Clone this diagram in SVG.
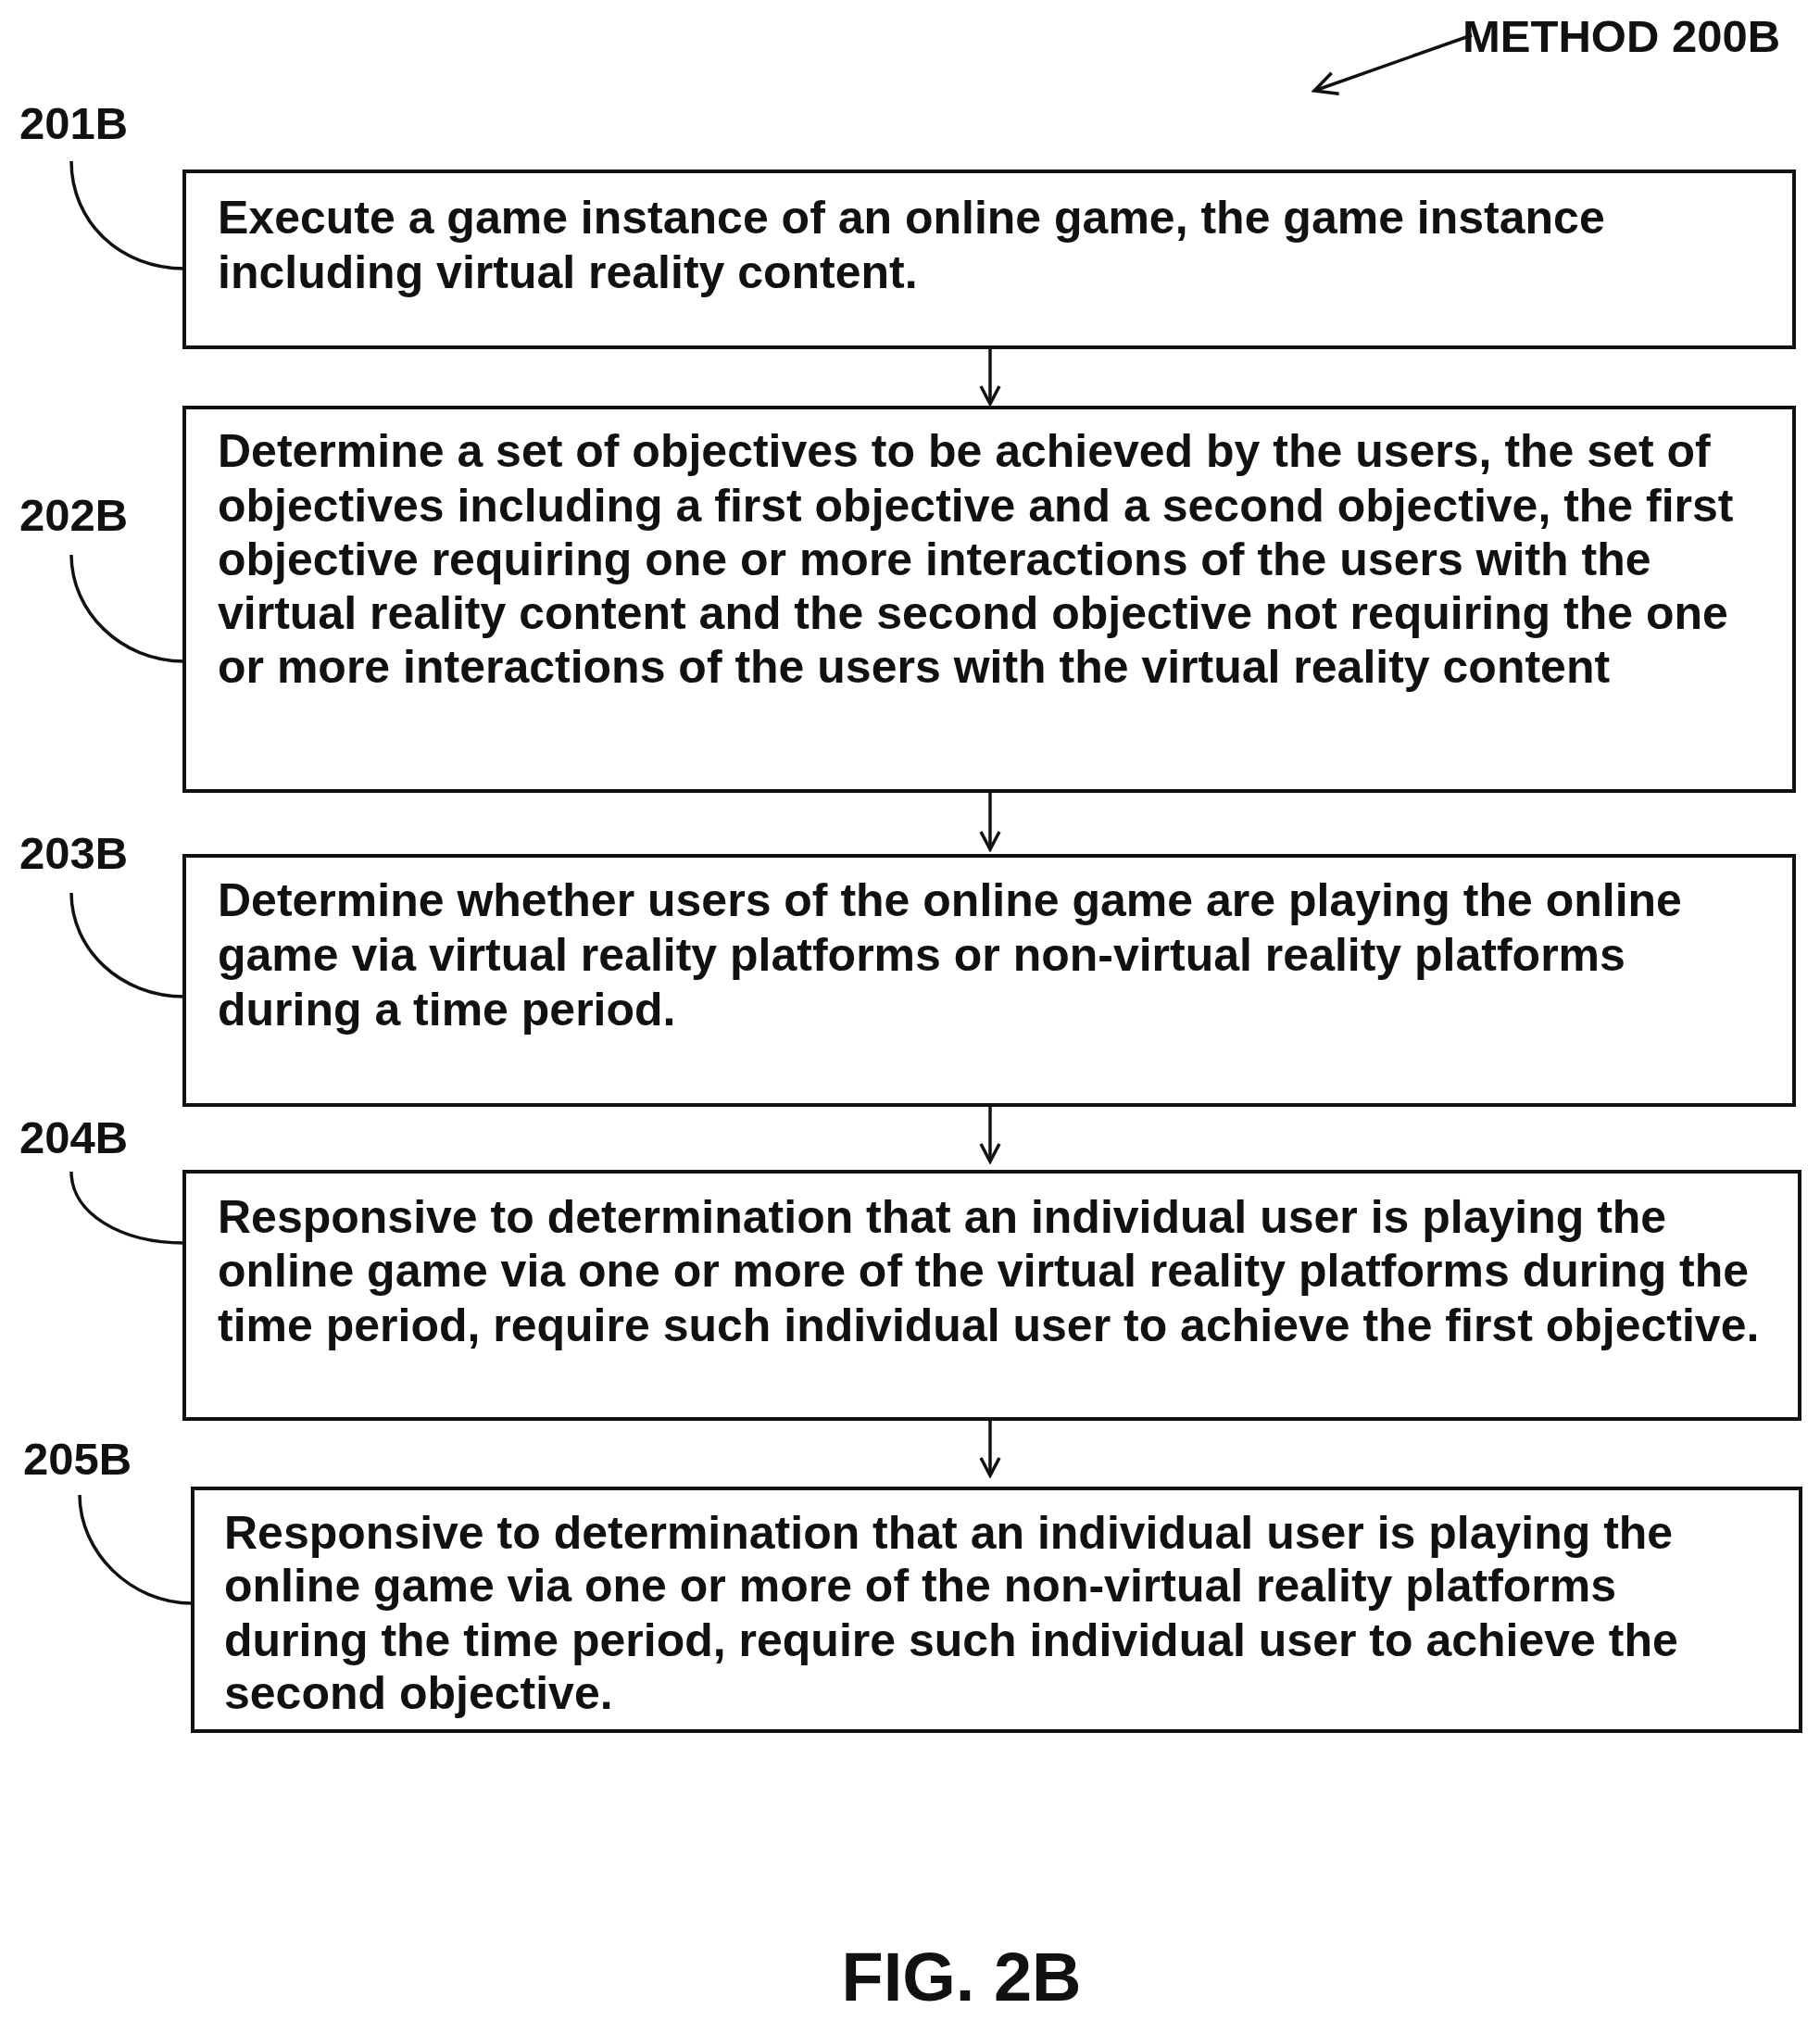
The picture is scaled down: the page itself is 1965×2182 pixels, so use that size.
<svg xmlns="http://www.w3.org/2000/svg" width="1965" height="2182" viewBox="0 0 1965 2182">
<style>
text{font-family:"Liberation Sans",Arial,sans-serif;font-weight:bold;fill:#111}
.t{font-size:50px}
.l{font-size:49px}
.box{fill:#fff;stroke:#111;stroke-width:4}
.c{fill:none;stroke:#111;stroke-width:3.5}
</style>
<defs><marker id="a" viewBox="0 0 24 24" refX="21" refY="12" markerWidth="24" markerHeight="24" markerUnits="userSpaceOnUse" orient="auto"><path d="M2,2 L21,12 L2,22" fill="none" stroke="#111" stroke-width="3.5"/></marker>
<marker id="b" viewBox="0 0 30 30" refX="27" refY="15" markerWidth="30" markerHeight="30" markerUnits="userSpaceOnUse" orient="auto"><path d="M3,3 L27,15 L3,27" fill="none" stroke="#111" stroke-width="3.5"/></marker></defs>
<rect width="1965" height="2182" fill="#fff"/>
<g id="title"><text x="1579" y="56" class="l">METHOD 200B</text></g>
<g id="n1"><rect class="box" x="199" y="185" width="1738" height="190"/>
<text class="t" x="235" y="252">Execute a game instance of an online game, the game instance</text>
<text class="t" x="235" y="311">including virtual reality content.</text>
<text class="l" x="21" y="150">201B</text></g>
<g id="n2"><rect class="box" x="199" y="440" width="1738" height="414"/>
<text class="t" x="235" y="504">Determine a set of objectives to be achieved by the users, the set of</text>
<text class="t" x="235" y="563">objectives including a first objective and a second objective, the first</text>
<text class="t" x="235" y="621">objective requiring one or more interactions of the users with the</text>
<text class="t" x="235" y="679">virtual reality content and the second objective not requiring the one</text>
<text class="t" x="235" y="737">or more interactions of the users with the virtual reality content</text>
<text class="l" x="21" y="573">202B</text></g>
<g id="n3"><rect class="box" x="199" y="924" width="1738" height="269"/>
<text class="t" x="235" y="989">Determine whether users of the online game are playing the online</text>
<text class="t" x="235" y="1048">game via virtual reality platforms or non-virtual reality platforms</text>
<text class="t" x="235" y="1107">during a time period.</text>
<text class="l" x="21" y="938">203B</text></g>
<g id="n4"><rect class="box" x="199" y="1265" width="1744" height="267"/>
<text class="t" x="235" y="1331">Responsive to determination that an individual user is playing the</text>
<text class="t" x="235" y="1389">online game via one or more of the virtual reality platforms during the</text>
<text class="t" x="235" y="1448">time period, require such individual user to achieve the first objective.</text>
<text class="l" x="21" y="1245">204B</text></g>
<g id="n5"><rect class="box" x="208" y="1607" width="1736" height="262"/>
<text class="t" x="242" y="1672">Responsive to determination that an individual user is playing the</text>
<text class="t" x="242" y="1729">online game via one or more of the non-virtual reality platforms</text>
<text class="t" x="242" y="1788">during the time period, require such individual user to achieve the</text>
<text class="t" x="242" y="1845">second objective.</text>
<text class="l" x="25" y="1592">205B</text></g>
<g id="fig"><text x="1038" y="2160" text-anchor="middle" style="font-size:74px">FIG. 2B</text></g>
<g id="connectors">
<path class="c" marker-end="url(#b)" d="M1589,38 L1419,98"/>
<path class="c" marker-end="url(#a)" d="M1069,375 L1069,436"/>
<path class="c" marker-end="url(#a)" d="M1069,854 L1069,917"/>
<path class="c" marker-end="url(#a)" d="M1069,1193 L1069,1254"/>
<path class="c" marker-end="url(#a)" d="M1069,1532 L1069,1593"/>
<path class="c" d="M77,174 C77,240 130,290 199,290"/>
<path class="c" d="M77,599 C77,660 130,714 199,714"/>
<path class="c" d="M77,964 C77,1025 130,1076 199,1076"/>
<path class="c" d="M77,1265 C77,1310 130,1342 199,1342"/>
<path class="c" d="M86,1614 C86,1675 140,1731 208,1731"/>
</g>
</svg>
